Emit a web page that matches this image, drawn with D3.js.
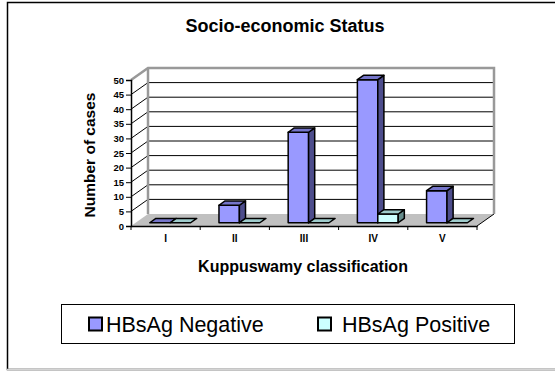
<!DOCTYPE html>
<html>
<head>
<meta charset="utf-8">
<script src="https://cdn.jsdelivr.net/npm/d3@7"></script>
<style>
  body { margin: 0; background: #fff; }
  text { font-family: "Liberation Sans", Arial, sans-serif; }
</style>
</head>
<body>
<div id="chart"></div>
<script>
// data
const categories = ["I", "II", "III", "IV", "V"];
const seriesNames = ["HBsAg Negative", "HBsAg Positive"];
const negative = [0, 6, 31, 49, 11];
const positive = [0, 0, 0, 3, 0];
const yTicks = [0, 5, 10, 15, 20, 25, 30, 35, 40, 45, 50];

const W = 555, H = 371;
// front plane of the plot
const plotLeft = 131, plotRight = 477, plotBottom = 226, plotTop = 80;
// depth of the 3D box
const depthX = 17, depthY = 12;
// bars sit part way into the box
const barFront = 0.27, barBack = 0.63;

const colors = {
  neg: {front: "#9999ff", top: "#7575c9", side: "#4d4d8c"},
  pos: {front: "#ccffff", top: "#9fcccc", side: "#668c8c"}
};

const svg = d3.select("#chart")
  .append("svg")
    .attr("width", W)
    .attr("height", H);

// outer frame (right side runs off the picture)
svg.append("rect")
  .attr("x", 7.5).attr("y", 2.5)
  .attr("width", W + 20).attr("height", 367)
  .attr("fill", "none").attr("stroke", "#000").attr("stroke-width", 1.5);
svg.append("line")
  .attr("x1", 7).attr("x2", W).attr("y1", 369.5).attr("y2", 369.5)
  .attr("stroke", "#d4d4d4").attr("stroke-width", 1.5);

// scales
const y = d3.scaleLinear().domain([0, 50]).range([plotBottom, plotTop]);
const x = d3.scaleBand().domain(categories).range([plotLeft, plotRight])
  .paddingInner(0.41).paddingOuter(0.205);
const xAxisScale = d3.scaleBand().domain(categories).range([plotLeft, plotRight]);
const xs = d3.scaleBand().domain(seriesNames).range([0, x.bandwidth()]);

// back wall
svg.append("rect")
  .attr("x", plotLeft + depthX).attr("y", plotTop - depthY)
  .attr("width", plotRight - plotLeft).attr("height", plotBottom - plotTop)
  .attr("fill", "#fff");

// gridlines on the wall
svg.selectAll(".grid")
  .data(yTicks.filter(d => d > 0 && d < 50))
  .join("line")
    .attr("x1", plotLeft + depthX).attr("x2", plotRight + depthX)
    .attr("y1", d => y(d) - depthY).attr("y2", d => y(d) - depthY)
    .attr("stroke", "#000").attr("stroke-width", 1);

// diagonal lines on the left side wall
svg.selectAll(".diag")
  .data(yTicks.filter(d => d > 0 && d < 50))
  .join("line")
    .attr("x1", plotLeft).attr("x2", plotLeft + depthX)
    .attr("y1", d => y(d)).attr("y2", d => y(d) - depthY)
    .attr("stroke", "#000").attr("stroke-width", 1);

// floor
svg.append("polygon")
  .attr("points", [[plotLeft, plotBottom], [plotLeft + depthX, plotBottom - depthY],
    [plotRight + depthX, plotBottom - depthY], [plotRight, plotBottom]].join(" "))
  .attr("fill", "#c0c0c0");
svg.append("line")
  .attr("x1", plotRight).attr("y1", plotBottom)
  .attr("x2", plotRight + depthX).attr("y2", plotBottom - depthY)
  .attr("stroke", "#000").attr("stroke-width", 1);

// wall border in grey
svg.append("polyline")
  .attr("points", [[plotLeft, plotTop], [plotLeft + depthX, plotTop - depthY],
    [plotRight + depthX, plotTop - depthY], [plotRight + depthX, plotBottom - depthY]].join(" "))
  .attr("fill", "none").attr("stroke", "#999").attr("stroke-width", 2.5);
svg.append("line")
  .attr("x1", plotLeft + depthX).attr("x2", plotLeft + depthX)
  .attr("y1", plotTop - depthY).attr("y2", plotBottom - depthY)
  .attr("stroke", "#999").attr("stroke-width", 2.5);

// y axis
svg.append("g")
  .attr("transform", `translate(${plotLeft},0)`)
  .call(d3.axisLeft(y).tickValues(yTicks).tickSize(5).tickPadding(2))
  .call(g => g.select(".domain").attr("stroke-width", 1.5))
  .call(g => g.selectAll("text")
    .attr("font-family", "Liberation Sans, Arial, sans-serif")
    .attr("font-size", 9.5).attr("font-weight", "bold").attr("fill", "#000"));

// x axis
svg.append("g")
  .attr("transform", `translate(0,${plotBottom})`)
  .call(d3.axisBottom(xAxisScale).tickSize(0).tickPadding(9))
  .call(g => g.select(".domain").attr("stroke-width", 1.5))
  .call(g => g.selectAll("text")
    .attr("font-family", "Liberation Sans, Arial, sans-serif")
    .attr("font-size", 10).attr("font-weight", "bold").attr("fill", "#000"));

// tick marks at the category borders
svg.selectAll(".xtick")
  .data(categories.concat(["end"]))
  .join("line")
    .attr("x1", (d, i) => plotLeft + i * xAxisScale.step())
    .attr("x2", (d, i) => plotLeft + i * xAxisScale.step())
    .attr("y1", plotBottom).attr("y2", plotBottom + 4)
    .attr("stroke", "#000").attr("stroke-width", 1);

// bars
const bars = [];
categories.forEach((c, i) => {
  bars.push({cat: c, s: seriesNames[0], v: negative[i], col: colors.neg});
  bars.push({cat: c, s: seriesNames[1], v: positive[i], col: colors.pos});
});

const fx = barFront * depthX, fy = barFront * depthY;
const bdx = (barBack - barFront) * depthX, bdy = (barBack - barFront) * depthY;

bars.forEach(b => {
  const x0 = x(b.cat) + xs(b.s) + fx;
  const x1 = x0 + xs.bandwidth();
  const yb = y(0) - fy;
  const yt = y(b.v) - fy;
  const g = svg.append("g")
    .attr("stroke", "#000").attr("stroke-width", 1.5).attr("stroke-linejoin", "round");
  if (b.v > 0) {
    g.append("rect")
      .attr("x", x0).attr("y", yt)
      .attr("width", x1 - x0).attr("height", yb - yt)
      .attr("fill", b.col.front);
    g.append("polygon")
      .attr("points", [[x1, yt], [x1 + bdx, yt - bdy], [x1 + bdx, yb - bdy], [x1, yb]].join(" "))
      .attr("fill", b.col.side);
  }
  g.append("polygon")
    .attr("points", [[x0, yt], [x0 + bdx, yt - bdy], [x1 + bdx, yt - bdy], [x1, yt]].join(" "))
    .attr("fill", b.col.top);
});

// titles
svg.append("text")
  .attr("x", 285).attr("y", 32)
  .attr("text-anchor", "middle")
  .attr("font-size", 18).attr("font-weight", "bold")
  .text("Socio-economic Status");

svg.append("text")
  .attr("x", 303).attr("y", 272)
  .attr("text-anchor", "middle")
  .attr("font-size", 16).attr("font-weight", "bold")
  .text("Kuppuswamy classification");

svg.append("text")
  .attr("transform", "translate(95,155) rotate(-90)")
  .attr("text-anchor", "middle")
  .attr("font-size", 15.5).attr("font-weight", "bold")
  .text("Number of cases");

// legend
svg.append("rect")
  .attr("x", 61.5).attr("y", 304.5)
  .attr("width", 453).attr("height", 39)
  .attr("fill", "#fff").attr("stroke", "#000").attr("stroke-width", 1);

const legendItems = [
  {name: seriesNames[0], col: colors.neg.front, sx: 89, tx: 106},
  {name: seriesNames[1], col: colors.pos.front, sx: 318, tx: 342}
];
const lg = svg.selectAll(".legend")
  .data(legendItems)
  .join("g");
lg.append("rect")
  .attr("x", d => d.sx).attr("y", 317.5)
  .attr("width", 13).attr("height", 13)
  .attr("fill", d => d.col).attr("stroke", "#000").attr("stroke-width", 2);
lg.append("text")
  .attr("x", d => d.tx).attr("y", 331.5)
  .attr("font-size", 21.5)
  .text(d => d.name);
</script>
</body>
</html>
